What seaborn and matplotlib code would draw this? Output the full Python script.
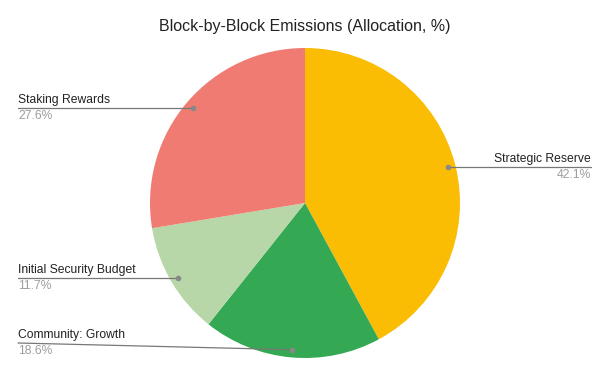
import numpy as np
import matplotlib
matplotlib.use("Agg")
import matplotlib.pyplot as plt
from matplotlib.lines import Line2D
import seaborn as sns

# data
labels = ["Strategic Reserve", "Community: Growth", "Initial Security Budget", "Staking Rewards"]
shares = [42.1, 18.6, 11.7, 27.6]
colors = ["#FBBC04", "#34A853", "#B7D7A8", "#F07B72"]
title = "Block-by-Block Emissions (Allocation, %)"

sns.set_theme(style="white")
plt.rcParams["font.family"] = ["Liberation Sans", "DejaVu Sans"]

W, H = 610, 377
fig = plt.figure(figsize=(W / 100, H / 100), dpi=100)

# pie placed in pixel space: centre (305, 203), radius 155
cx, cy, r = 305, 203, 155
ax = fig.add_axes([(cx - r) / W, 1 - (cy + r) / H, 2 * r / W, 2 * r / H])
wedges, _ = ax.pie(shares, colors=colors, startangle=90, counterclock=False,
                   wedgeprops=dict(linewidth=0))
ax.set_xlim(-1, 1)
ax.set_ylim(-1, 1)
ax.set_aspect("equal")
ax.axis("off")

fig.text(305 / W, 1 - 27 / H, title, ha="center", va="center",
         fontsize=11.5, color="#222222")

# callout rows: None = level with the dot, else px from top
label_y = [None, 343, None, None]
left_x, right_x = 18, 591
fig.canvas.draw()
for w, lab, val, ly in zip(wedges, labels, shares, label_y):
    mid = np.deg2rad((w.theta1 + w.theta2) / 2)
    dx, dy = 0.95 * np.cos(mid), 0.95 * np.sin(mid)
    px, py = ax.transData.transform((dx, dy))
    fx, fy = px / W, py / H
    ly_f = fy if ly is None else 1 - ly / H
    if dx > 0:
        end_x = right_x / W
        ha = "right"
    else:
        end_x = left_x / W
        ha = "left"
    fig.add_artist(Line2D([end_x, fx], [ly_f, fy], transform=fig.transFigure,
                          color="#777777", linewidth=0.9))
    fig.add_artist(Line2D([fx], [fy], transform=fig.transFigure, marker="o",
                          markersize=3, color="#888888", linestyle="none"))
    fig.text(end_x, ly_f + 2 / H, lab, ha=ha, va="bottom", fontsize=8.7,
             color="#222222")
    fig.text(end_x, ly_f - 2 / H, f"{val}%", ha=ha, va="top", fontsize=8.7,
             color="#9E9E9E")

fig.savefig("out.png", dpi=100, facecolor="white")
